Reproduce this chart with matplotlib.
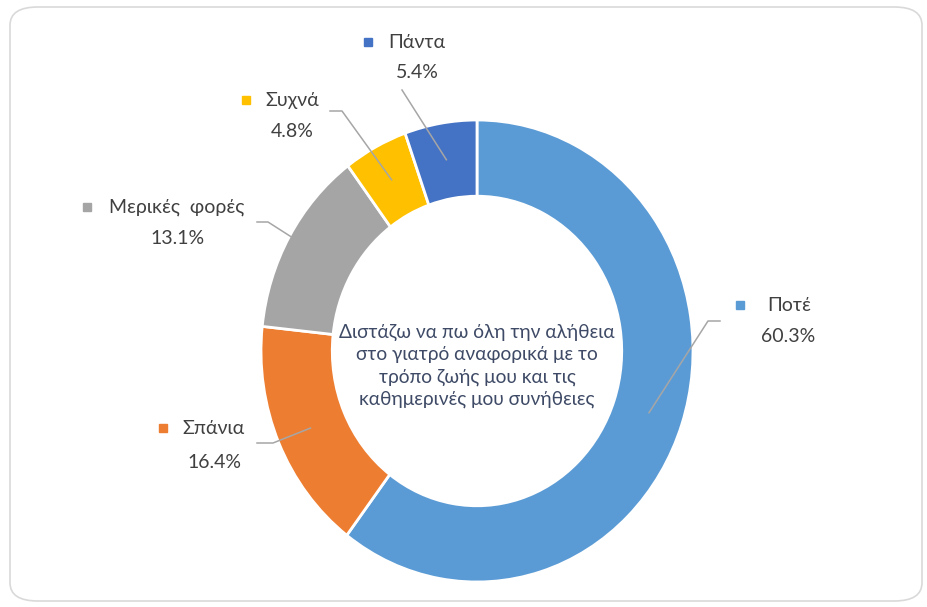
import numpy as np
import matplotlib.pyplot as plt
from matplotlib.patches import FancyBboxPatch

# Donut data (clockwise from 12 o'clock)
categories = ['Ποτέ', 'Σπάνια', 'Μερικές  φορές', 'Συχνά', 'Πάντα']
values = [60.3, 16.4, 13.1, 4.8, 5.4]
colors = ['#5B9BD5', '#ED7D31', '#A5A5A5', '#FFC000', '#4472C4']
center_text = ('Διστάζω να πω όλη την αλήθεια\n'
               'στο γιατρό αναφορικά με το\n'
               'τρόπο ζωής μου και τις\n'
               'καθημερινές μου συνήθειες')

plt.rcParams['font.family'] = ['Lato', 'DejaVu Sans']

W, H = 928, 607
CX, CY, RX, RY = 477, 351, 216, 231

fig = plt.figure(figsize=(W / 100, H / 100), dpi=100)
fig.patch.set_facecolor('white')

# rounded frame
frame = FancyBboxPatch((10 / W, 6 / H), 912 / W, 594 / H,
                       boxstyle='round,pad=0,rounding_size=0.03',
                       transform=fig.transFigure, facecolor='none',
                       edgecolor='#D9D9D9', linewidth=1.2, zorder=-1)
fig.patches.append(frame)

ax = fig.add_axes([(CX - RX) / W, (H - CY - RY) / H, 2 * RX / W, 2 * RY / H])
wedges, _ = ax.pie(values, colors=colors, startangle=90, counterclock=False,
                   radius=1.0, wedgeprops=dict(width=0.33, edgecolor='white', linewidth=2))
ax.set_aspect('auto')
ax.set_xlim(-1, 1)
ax.set_ylim(-1, 1)
ax.axis('off')


def px(x, y):
    return (x - CX) / RX, (CY - y) / RY


ax.text(*px(CX, 366), center_text, ha='center', va='center', fontsize=13.8,
        color='#3E4A66', linespacing=1.38)

# label layout in pixels: marker, name, percentage, leader path
labels = {
    'Ποτέ': dict(mk=(740, 305), name=(789, 305), pct=(788, 336), path=[(720, 321), (708, 321)]),
    'Σπάνια': dict(mk=(163, 428), name=(214, 428), pct=(214, 462), path=[(257, 443), (273, 443)]),
    'Μερικές  φορές': dict(mk=(87, 207), name=(177, 207), pct=(178, 238), path=[(257, 222), (268, 222)]),
    'Συχνά': dict(mk=(246, 100), name=(292, 100), pct=(292, 131), path=[(330, 111), (342, 111)]),
    'Πάντα': dict(mk=(368, 42), name=(417, 42), pct=(417, 73), path=[(402, 90)]),
}

for w, cat, val, col in zip(wedges, categories, values, colors):
    lab = labels[cat]
    mid = np.deg2rad((w.theta1 + w.theta2) / 2)
    r = 0.84
    end = (r * np.cos(mid), r * np.sin(mid))
    pts = [px(*p) for p in lab['path']] + [end]
    xs, ys = zip(*pts)
    ax.plot(xs, ys, color='#A6A6A6', lw=1.1, clip_on=False, zorder=5)
    ax.plot(*px(*lab['mk']), marker='s', ms=5.5, color=col, clip_on=False)
    ax.text(*px(*lab['name']), cat, ha='center', va='center', fontsize=14,
            color='#404040')
    ax.text(*px(*lab['pct']), f'{val:.1f}%', ha='center', va='center',
            fontsize=14, color='#404040')

fig.savefig('out.png', dpi=100, facecolor='white')
